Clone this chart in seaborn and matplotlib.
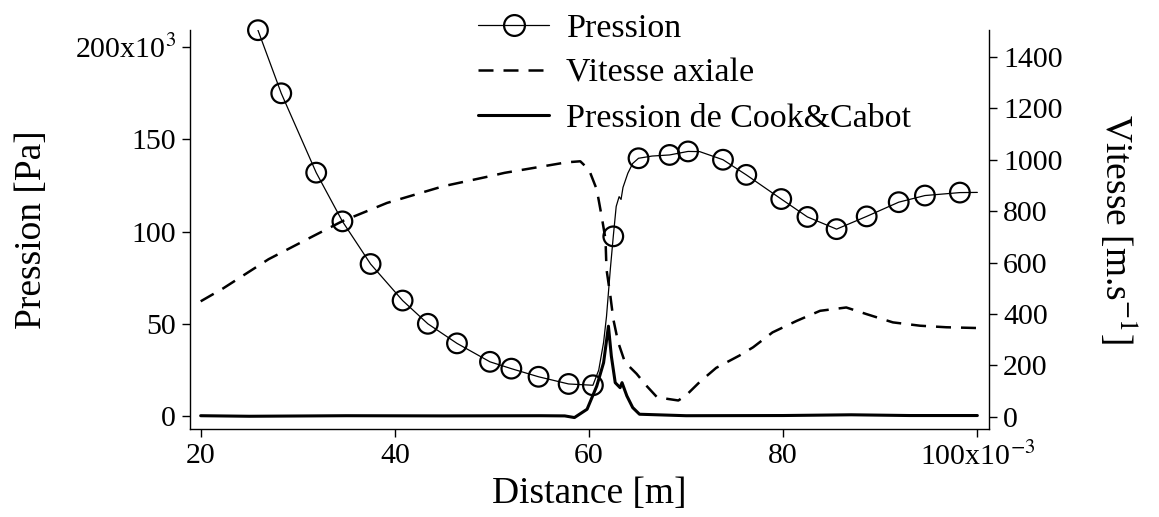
import numpy as np
import pandas as pd
import seaborn as sns
import matplotlib.pyplot as plt
from matplotlib.lines import Line2D

# Pression (line) : distance [mm], pression [kPa]
p_x = [25.9, 28.3, 31.9, 34.6, 37.5, 40.8, 43.4, 46.4, 49.8, 52.0, 54.8, 57.9, 60.4,
       61.0, 61.5, 61.8, 62.2, 62.5, 62.8, 63.1, 63.3, 63.5, 64.0, 64.5, 65.1, 66.5,
       68.3, 70.2, 71.4, 73.8, 76.2, 79.8, 82.5, 85.5, 88.6, 91.9, 94.6, 98.2, 100.0]
p_y = [209.2, 175, 132, 105.6, 82.5, 62.7, 50.1, 39.5, 29.5, 25.8, 21.4, 17.5, 16.8,
       25, 40, 54, 80, 97.5, 113.7, 119, 117.5, 124, 131.7, 137, 139.8, 141,
       141.6, 143.5, 143.4, 139, 130.8, 117.7, 108, 101.4, 108.3, 116, 119.6, 121.2, 121.3]

# Pression markers
pm_x = [25.9, 28.3, 31.9, 34.6, 37.5, 40.8, 43.4, 46.4, 49.8, 52.0, 54.8, 57.9, 60.4,
        62.5, 65.1, 68.3, 70.2, 73.8, 76.2, 79.8, 82.5, 85.5, 88.6, 91.9, 94.6, 98.2]
pm_y = [209.2, 175, 132, 105.6, 82.5, 62.7, 50.1, 39.5, 29.5, 25.8, 21.4, 17.5, 16.8,
        97.5, 139.8, 141.6, 143.5, 139, 130.8, 117.7, 108, 101.4, 108.3, 116, 119.6, 121.2]

# Vitesse axiale [m/s]
v_x = [20.0, 22.3, 27.0, 31.6, 34.6, 39.2, 45.0, 49.8, 51.3, 57.7, 59.1, 60.0, 60.8,
       61.3, 61.7, 61.8, 62.2, 62.5, 63.0, 63.7, 64.9, 65.9, 67.0, 67.6, 69.2, 70.0,
       71.4, 73.1, 75.5, 76.9, 78.9, 81.4, 83.8, 86.5, 88.6, 91.3, 94.1, 96.8, 100.0]
v_y = [449, 499, 613, 703, 761, 832, 897, 936, 949, 990, 994, 961, 884,
       780, 690, 574, 470, 380, 290, 212, 167, 121, 76, 72, 63, 83,
       135, 190, 238, 270, 328, 373, 412, 425, 399, 367, 354, 348, 345]

# Pression de Cook&Cabot [kPa]
c_x = [20.0, 25.0, 35.0, 45.0, 55.0, 57.5, 58.5, 59.8, 60.8, 61.5, 62.0, 62.3, 62.7,
       63.2, 63.4, 63.9, 64.5, 65.2, 70.0, 80.0, 87.0, 93.0, 100.0]
c_y = [0.3, 0.0, 0.3, 0.2, 0.3, 0.2, -0.7, 3.8, 16.4, 29, 48.8, 32.6, 18.2,
       15.5, 18.2, 11, 4.7, 1.1, 0.3, 0.4, 0.8, 0.4, 0.4]

pression = pd.DataFrame({'x': p_x, 'y': p_y})
marks = pd.DataFrame({'x': pm_x, 'y': pm_y})
vitesse = pd.DataFrame({'x': v_x, 'y': v_y})
cook = pd.DataFrame({'x': c_x, 'y': c_y})

sns.set_theme(style='ticks')
plt.rcParams['font.family'] = ['Liberation Serif', 'DejaVu Serif']
plt.rcParams['mathtext.fontset'] = 'stix'
plt.rcParams['text.color'] = 'black'
plt.rcParams['axes.labelcolor'] = 'black'
plt.rcParams['xtick.color'] = 'black'
plt.rcParams['ytick.color'] = 'black'

fig = plt.figure(figsize=(11.59, 5.17), dpi=100)
ax = fig.add_axes([190/1159, 1 - 429/517, 799/1159, 399/517])
ax2 = ax.twinx()

sns.lineplot(data=cook, x='x', y='y', ax=ax, color='black', lw=2.2, sort=False)
sns.lineplot(data=pression, x='x', y='y', ax=ax, color='black', lw=0.9, sort=False)
sns.scatterplot(data=marks, x='x', y='y', ax=ax, marker='o', s=200,
                facecolors='none', edgecolor='black', linewidth=1.6, zorder=3,
                clip_on=False)
sns.lineplot(data=vitesse, x='x', y='y', ax=ax2, color='black', lw=1.8,
             dashes=False, linestyle=(0, (6, 4)), sort=False)

ax.set_xlim(18.9, 101.2)
ax.set_ylim(-6.9, 209.3)
ax2.set_ylim(-48, 1505)

ax.set_xticks([20, 40, 60, 80, 100])
ax.set_xticklabels(['20', '40', '60', '80', '100x10$^{-3}$'])
ax.set_yticks([0, 50, 100, 150, 200])
ax.set_yticklabels(['0', '50', '100', '150', '200x10$^{3}$'])
ax2.set_yticks(range(0, 1401, 200))

for a in (ax, ax2):
    a.tick_params(labelsize=21.5, length=6, width=1, color='black', labelcolor='black', pad=4)
    a.spines['top'].set_visible(False)
    for s in a.spines.values():
        s.set_color('black')
        s.set_linewidth(1)
ax.spines['right'].set_visible(False)
ax2.spines['left'].set_visible(False)
ax2.spines['bottom'].set_visible(False)

ax.set_xlabel('Distance [m]', fontsize=27, color='black')
ax.set_ylabel('Pression [Pa]', fontsize=27, color='black')
ax2.set_ylabel('Vitesse [m.s$^{-1}$]', fontsize=27, rotation=-90, va='bottom', color='black')
ax.xaxis.set_label_coords(0.5, -0.12)
ax.yaxis.set_label_coords(-0.177, 0.5)
ax2.yaxis.set_label_coords(1.135, 0.5)

handles = [Line2D([], [], color='black', lw=0.9, marker='o', ms=15, mfc='none', mew=1.6),
           Line2D([], [], color='black', lw=1.8, linestyle=(0, (6, 4))),
           Line2D([], [], color='black', lw=2.2)]
labels = ['Pression', 'Vitesse axiale', 'Pression de Cook&Cabot']
fig.legend(handles, labels, loc='upper left', bbox_to_anchor=(478/1159, 1 - 13/517),
           frameon=False, fontsize=24.5, handlelength=2.1, handletextpad=0.5,
           labelspacing=0.42, borderpad=0, borderaxespad=0, labelcolor='black')

fig.savefig('out.png', dpi=100)
